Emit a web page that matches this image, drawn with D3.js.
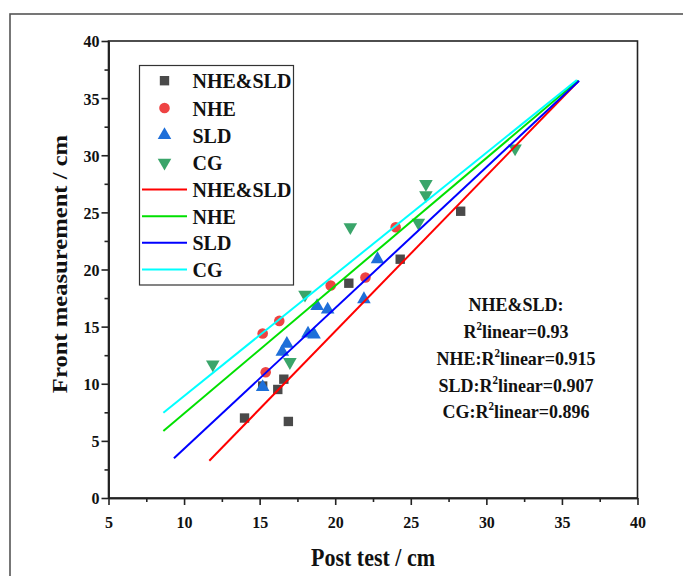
<!DOCTYPE html>
<html>
<head>
<meta charset="utf-8">
<script src="https://cdn.jsdelivr.net/npm/d3@7/dist/d3.min.js"></script>
<style>
  body { margin: 0; background: #fff; }
  svg { display: block; }
  text { font-family: "Liberation Serif", "Times New Roman", serif; font-weight: bold; fill: #111; }
</style>
</head>
<body>
<svg id="chart" width="683" height="576"></svg>
<script>
// ---- data ----
const seriesNames = ["NHE&SLD", "NHE", "SLD", "CG"];
const nheSldX = [28.3, 24.3, 20.9, 16.6, 16.2, 14.0, 16.9, 15.2];
const nheSldY = [25.1, 20.9, 18.8, 10.4, 9.5, 7.0, 6.7, 9.8];
const nheX = [24.0, 22.0, 19.7, 16.3, 15.2, 15.4];
const nheY = [23.7, 19.3, 18.6, 15.5, 14.4, 11.0];
const sldX = [22.8, 21.9, 18.8, 19.5, 18.2, 18.6, 16.8, 16.5, 15.2];
const sldY = [20.9, 17.4, 16.8, 16.5, 14.4, 14.3, 13.5, 12.8, 9.7];
const cgX = [26.0, 26.0, 25.5, 21.0, 18.0, 11.9, 17.0, 31.9];
const cgY = [27.5, 26.5, 24.1, 23.7, 17.8, 11.7, 11.9, 30.6];
// fitted lines: [start, end]
const fitNheSldX = [11.67, 36.07], fitNheSldY = [3.26, 36.45];
const fitNheX = [8.63, 36.07],     fitNheY = [5.86, 36.54];
const fitSldX = [9.33, 36.14],     fitSldY = [3.47, 36.52];
const fitCgX = [8.63, 35.99],      fitCgY = [7.47, 36.59];
const xTicks = [5, 10, 15, 20, 25, 30, 35, 40];
const yTicks = [0, 5, 10, 15, 20, 25, 30, 35, 40];
const xMinor = [7.5, 12.5, 17.5, 22.5, 27.5, 32.5, 37.5];
const yMinor = [2.5, 7.5, 12.5, 17.5, 22.5, 27.5, 32.5, 37.5];
const r2Lines = [
  {pre: "NHE&SLD:", sup: false, post: ""},
  {pre: "R", sup: true, post: "linear=0.93"},
  {pre: "NHE:R", sup: true, post: "linear=0.915"},
  {pre: "SLD:R", sup: true, post: "linear=0.907"},
  {pre: "CG:R", sup: true, post: "linear=0.896"}
];

// ---- layout ----
const svg = d3.select("#chart");
const L = 108.5, R = 637.5, T = 41, B = 498;
const SY = 1.1; // vertical stretch of the lettering
const x = d3.scaleLinear().domain([5, 40]).range([L, R]);
const y = d3.scaleLinear().domain([0, 40]).range([B, T]);

// outer border
svg.append("rect").attr("x", 10).attr("y", 14).attr("width", 700).attr("height", 600)
  .attr("fill", "none").attr("stroke", "#555").attr("stroke-width", 1.6);

// frame
svg.append("rect").attr("x", L).attr("y", T).attr("width", R - L).attr("height", B - T)
  .attr("fill", "none").attr("stroke", "#222").attr("stroke-width", 1.6);

// axes
const xAxis = svg.append("g").attr("transform", `translate(0,${B})`)
  .call(d3.axisBottom(x).tickValues(xTicks).tickSize(7).tickSizeOuter(0).tickFormat(d3.format("d")));
const xAxisMinor = svg.append("g").attr("transform", `translate(0,${B})`)
  .call(d3.axisBottom(x).tickValues(xMinor).tickSize(4).tickSizeOuter(0).tickFormat(""));
const yAxis = svg.append("g").attr("transform", `translate(${L},0)`)
  .call(d3.axisLeft(y).tickValues(yTicks).tickSize(7).tickSizeOuter(0).tickFormat(d3.format("d")));
const yAxisMinor = svg.append("g").attr("transform", `translate(${L},0)`)
  .call(d3.axisLeft(y).tickValues(yMinor).tickSize(4).tickSizeOuter(0).tickFormat(""));
[xAxis, xAxisMinor, yAxis, yAxisMinor].forEach(g => {
  g.select(".domain").attr("stroke", "#222").attr("stroke-width", 1.6);
  g.selectAll(".tick line").attr("stroke", "#222").attr("stroke-width", 1.6);
  g.selectAll("text").attr("font-family", "Liberation Serif").attr("font-weight", "bold")
    .attr("font-size", 16).attr("fill", "#111");
});
xAxis.selectAll("text").attr("dy", null).attr("y", 0)
  .attr("transform", `translate(0,30) scale(1,${SY})`);
yAxis.selectAll("text").attr("x", 0).attr("dy", "0.34em")
  .attr("transform", `translate(-9,0) scale(1,${SY})`);

// axis titles
svg.append("text").attr("transform", `translate(${(L + R) / 2},566) scale(1,${SY})`)
  .attr("text-anchor", "middle").attr("font-size", 22).text("Post test / cm");
svg.append("text").attr("transform", "translate(67,264) rotate(-90) scale(1.12,1)")
  .attr("text-anchor", "middle").attr("font-size", 22).text("Front measurement / cm");

// fit lines
const fits = [
  {xs: fitNheSldX, ys: fitNheSldY, c: "#ff0000"},
  {xs: fitNheX, ys: fitNheY, c: "#00e000"},
  {xs: fitSldX, ys: fitSldY, c: "#0000ff"},
  {xs: fitCgX, ys: fitCgY, c: "#00ffff"}
];
const lineGen = d3.line().x(d => x(d[0])).y(d => y(d[1]));

// markers
const markerDefs = [
  {xs: nheSldX, ys: nheSldY, type: d3.symbolSquare, size: 88, c: "#4a4a4a", rot: 0},
  {xs: nheX, ys: nheY, type: d3.symbolCircle, size: 88, c: "#ee4343", rot: 0},
  {xs: sldX, ys: sldY, type: d3.symbolTriangle, size: 80, c: "#1e6fd9", rot: 0},
  {xs: cgX, ys: cgY, type: d3.symbolTriangle, size: 80, c: "#3aa56a", rot: 180}
];
markerDefs.forEach(m => {
  svg.append("g").selectAll("path").data(m.xs.map((v, i) => [v, m.ys[i]])).join("path")
    .attr("d", d3.symbol().type(m.type).size(m.size))
    .attr("transform", d => `translate(${x(d[0])},${y(d[1])}) rotate(${m.rot})`)
    .attr("fill", m.c);
});
fits.forEach(f => {
  svg.append("path").datum(f.xs.map((v, i) => [v, f.ys[i]])).attr("d", lineGen)
    .attr("fill", "none").attr("stroke", f.c).attr("stroke-width", 2);
});

// legend
const lg = svg.append("g");
lg.append("rect").attr("x", 139.5).attr("y", 65.5).attr("width", 154).attr("height", 219.5)
  .attr("fill", "#fff").attr("stroke", "#333").attr("stroke-width", 1.2);
const rowY = [80.7, 108, 135.2, 162.6, 189.5, 216.2, 242.8, 269.4];
markerDefs.forEach((m, i) => {
  lg.append("path").attr("d", d3.symbol().type(m.type).size(m.size)())
    .attr("transform", `translate(164.5,${rowY[i]}) rotate(${m.rot})`).attr("fill", m.c);
  lg.append("text").attr("transform", `translate(192.5,${rowY[i] + 7.5}) scale(1,${SY})`)
    .attr("font-size", 20).text(seriesNames[i]);
});
fits.forEach((f, i) => {
  const yy = rowY[i + 4];
  lg.append("line").attr("x1", 142).attr("x2", 187).attr("y1", yy).attr("y2", yy)
    .attr("stroke", f.c).attr("stroke-width", 2);
  lg.append("text").attr("transform", `translate(192.5,${yy + 7.5}) scale(1,${SY})`)
    .attr("font-size", 20).text(seriesNames[i]);
});

// R² annotation
const r2Y = [311, 338, 365, 392, 418];
r2Lines.forEach((l, i) => {
  const t = svg.append("text").attr("transform", `translate(516,${r2Y[i]}) scale(1,${SY})`)
    .attr("text-anchor", "middle").attr("font-size", 18);
  t.append("tspan").text(l.pre);
  if (l.sup) {
    t.append("tspan").attr("font-size", 11).attr("dy", -7).text("2");
    t.append("tspan").attr("dy", 7).text(l.post);
  }
});
</script>
</body>
</html>
